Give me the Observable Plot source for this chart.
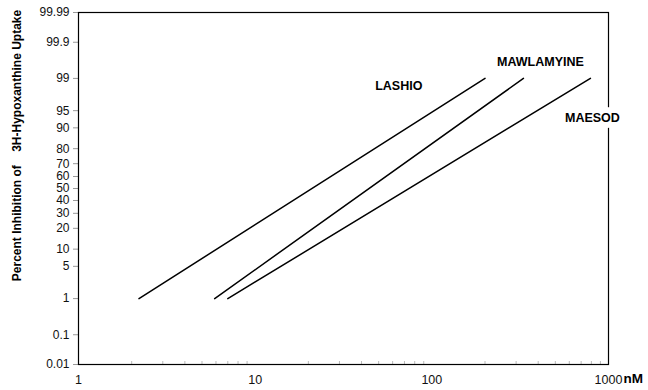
<!DOCTYPE html>
<html>
<head>
<meta charset="utf-8">
<script src="https://cdn.jsdelivr.net/npm/d3@7"></script>
<script src="https://cdn.jsdelivr.net/npm/@observablehq/plot@0.6"></script>
<style>
  html, body { margin: 0; padding: 0; background: #fff; }
  #chart svg { display: block; }
</style>
</head>
<body>
<div id="chart"></div>
<script>
// ---- data ----
const seriesNames = ["LASHIO", "MAWLAMYINE", "MAESOD"];
const lashioNM = [2.2, 200];
const lashioPct = [1, 99];
const mawlamyineNM = [5.9, 330];
const mawlamyinePct = [1, 99];
const maesodNM = [7, 790];
const maesodPct = [1, 99];

const labelNM = [65, 412, 811];
const labelPct = [98.47, 99.62, 93.1];

const yTickValues = [0.01, 0.1, 1, 5, 10, 20, 30, 40, 50, 60, 70, 80, 90, 95, 99, 99.9, 99.99];
const yTickLabels = ["0.01", "0.1", "1", "5", "10", "20", "30", "40", "50", "60", "70", "80", "90", "95", "99", "99.9", "99.99"];
const xTickValues = [1, 10, 100, 1000];
const xTickLabels = ["1", "10", "100", "1000"];
const xMinorTicks = [2,3,4,5,6,7,8,9,20,30,40,50,60,70,80,90,200,300,400,500,600,700,800,900];

const yTitle = "Percent Inhibition of\u00a0\u00a0\u00a0 3H-Hypoxanthine Uptake";
const xUnit = "nM";

// ---- probit transform (inverse normal CDF, Acklam) ----
function probit(pct) {
  const p = pct / 100;
  const a=[-3.969683028665376e+01,2.209460984245205e+02,-2.759285104469687e+02,1.383577518672690e+02,-3.066479806614716e+01,2.506628277459239e+00];
  const b=[-5.447609879822406e+01,1.615858368580409e+02,-1.556989798598866e+02,6.680131188771972e+01,-1.328068155288572e+01];
  const c=[-7.784894002430293e-03,-3.223964580411365e-01,-2.400758277161838e+00,-2.549732539343734e+00,4.374664141464968e+00,2.938163982698783e+00];
  const d=[7.784695709041462e-03,3.224671290700398e-01,2.445134137142996e+00,3.754408661907416e+00];
  const pl = 0.02425, ph = 1 - pl;
  let q, r;
  if (p < pl) { q = Math.sqrt(-2*Math.log(p)); return (((((c[0]*q+c[1])*q+c[2])*q+c[3])*q+c[4])*q+c[5])/((((d[0]*q+d[1])*q+d[2])*q+d[3])*q+1); }
  if (p > ph) { q = Math.sqrt(-2*Math.log(1-p)); return -(((((c[0]*q+c[1])*q+c[2])*q+c[3])*q+c[4])*q+c[5])/((((d[0]*q+d[1])*q+d[2])*q+d[3])*q+1); }
  q = p - 0.5; r = q*q;
  return (((((a[0]*r+a[1])*r+a[2])*r+a[3])*r+a[4])*r+a[5])*q/(((((b[0]*r+b[1])*r+b[2])*r+b[3])*r+b[4])*r+1);
}

// ---- build tables ----
const lines = [
  ...lashioNM.map((x, i) => ({series: seriesNames[0], x, pct: lashioPct[i]})),
  ...mawlamyineNM.map((x, i) => ({series: seriesNames[1], x, pct: mawlamyinePct[i]})),
  ...maesodNM.map((x, i) => ({series: seriesNames[2], x, pct: maesodPct[i]}))
];
const labels = seriesNames.map((name, i) => ({name, x: labelNM[i], pct: labelPct[i]}));
const yTickZ = yTickValues.map(v => probit(v));
const yLabelByZ = new Map(yTickZ.map((z, i) => [z, yTickLabels[i]]));
const xLabelByV = new Map(xTickValues.map((v, i) => [v, xTickLabels[i]]));

const font = "'Liberation Sans', Arial, Helvetica, sans-serif";

const chart = Plot.plot({
  width: 648,
  height: 390,
  marginLeft: 78,
  marginRight: 40,
  marginTop: 12,
  marginBottom: 26,
  style: {fontFamily: font, fontSize: "12px", color: "#111", background: "#fff"},
  x: {type: "log", domain: [1, 1000]},
  y: {type: "linear", domain: [probit(0.01), probit(99.99)]},
  marks: [
    // y ticks and labels
    Plot.axisY(yTickZ, {
      anchor: "left", tickSize: 5, tickPadding: 4, stroke: "#999",
      tickFormat: z => yLabelByZ.get(z) ?? "", fill: "#111", fontSize: 12, label: null
    }),
    // x minor ticks (inside)
    Plot.axisX(xMinorTicks, {anchor: "bottom", tickSize: -3, stroke: "#bbb", tickFormat: () => "", label: null}),
    // x labels
    Plot.axisX(xTickValues, {
      anchor: "bottom", tickSize: 0, tickPadding: 11,
      tickFormat: v => xLabelByV.get(v) ?? "", fill: "#111", fontSize: 12.5, label: null
    }),
    Plot.frame({stroke: "#000", strokeWidth: 1.2}),
    Plot.line(lines, {
      x: "x", y: d => probit(d.pct), z: "series",
      stroke: "#000", strokeWidth: 1.5
    }),
    Plot.text(labels, {
      x: "x", y: d => probit(d.pct), text: "name",
      fill: "#000", stroke: "#fff", strokeWidth: 12, fontWeight: "bold", fontSize: 12.5
    }),
    // y axis title
    Plot.text([yTitle], {
      frameAnchor: "left", text: d => d, rotate: -90, dx: -61, dy: -43,
      textAnchor: "middle", fontWeight: "bold", fontSize: 12, fill: "#000"
    }),
    // x unit
    Plot.text([xUnit], {
      frameAnchor: "bottom-right", text: d => d, textAnchor: "start", dx: 15, dy: 18,
      fontWeight: "bold", fontSize: 13.5, fill: "#000"
    })
  ]
});

document.getElementById("chart").appendChild(chart);
</script>
</body>
</html>
